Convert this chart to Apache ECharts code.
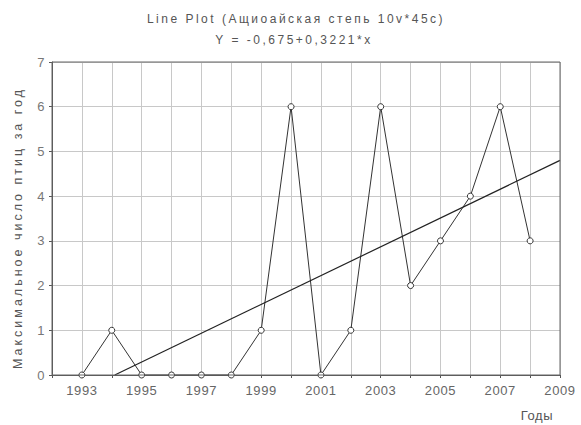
<!DOCTYPE html>
<html><head><meta charset="utf-8">
<script src="https://cdn.jsdelivr.net/npm/echarts@6/dist/echarts.min.js"></script>
<style>
html,body{margin:0;padding:0;background:#fff}#c{width:581px;height:425px}
#c text[style*="12px"]{letter-spacing:2.5px}
#c text[style*="12.5px"]{letter-spacing:3px}
#c text[style*="13px"]{letter-spacing:0.6px}
</style>
</head><body><div id="c"></div>
<script>
const years = [1993,1994,1995,1996,1997,1998,1999,2000,2001,2002,2003,2004,2005,2006,2007,2008];
const values = [0,1,0,0,0,0,1,6,0,1,6,2,3,4,6,3];
const fitLine = [[1994.1,0],[2009,4.8]];
const titleText = 'Line Plot (Ащиоайская степь 10v*45c)';
const subText = 'Y = -0,675+0,3221*x';
const yName = 'Максимальное число птиц за год';
const xName = 'Годы';

const font = '"Liberation Sans", Arial, sans-serif';
const chart = echarts.init(document.getElementById('c'), null, {renderer:'svg'});
chart.setOption({
  animation:false,
  backgroundColor:'#fff',
  grid:{left:52,right:21,top:62,bottom:50},
  xAxis:{type:'value',min:1992,max:2009,interval:1,
    axisLine:{show:true,onZero:false,lineStyle:{color:'#555',width:1}},
    axisTick:{show:true,length:3,lineStyle:{color:'#555'}},
    axisLabel:{fontFamily:font,fontSize:13,color:'#666',margin:9,
      formatter:v=> (v%2===1? String(v):'')},
    splitLine:{show:true,lineStyle:{color:'#c8c8c8'}}},
  yAxis:{type:'value',min:0,max:7,interval:1,
    axisLine:{show:true,lineStyle:{color:'#555'}},
    axisTick:{show:true,length:3,lineStyle:{color:'#555'}},
    axisLabel:{fontFamily:font,fontSize:13,color:'#777',margin:7},
    splitLine:{show:true,lineStyle:{color:'#c8c8c8'}}},
  graphic:[
    {type:'rect',shape:{x:52,y:62,width:508,height:313},style:{fill:null,stroke:'#666',lineWidth:1},z:100,silent:true},
    {type:'text',x:296,y:19,style:{text:titleText,fontSize:12,fontFamily:font,fill:'#555',align:'center',verticalAlign:'middle'}},
    {type:'text',x:294,y:40,style:{text:subText,fontSize:12,fontFamily:font,fill:'#555',align:'center',verticalAlign:'middle'}},
    {type:'text',x:18,y:228,rotation:Math.PI/2,style:{text:yName,fontSize:12.5,fontFamily:font,fill:'#555',align:'center',verticalAlign:'middle'}},
    {type:'text',x:537,y:415,style:{text:xName,fontSize:13,fontFamily:font,fill:'#555',align:'center',verticalAlign:'middle'}}
  ],
  series:[
    {type:'line',data:years.map((y,i)=>[y,values[i]]),symbol:'circle',symbolSize:6,
      lineStyle:{color:'#333',width:1},itemStyle:{color:'#fff',borderColor:'#333',borderWidth:1},clip:true},
    {type:'line',data:fitLine,symbol:'none',lineStyle:{color:'#222',width:1.2},clip:true}
  ]
});
</script></body></html>
